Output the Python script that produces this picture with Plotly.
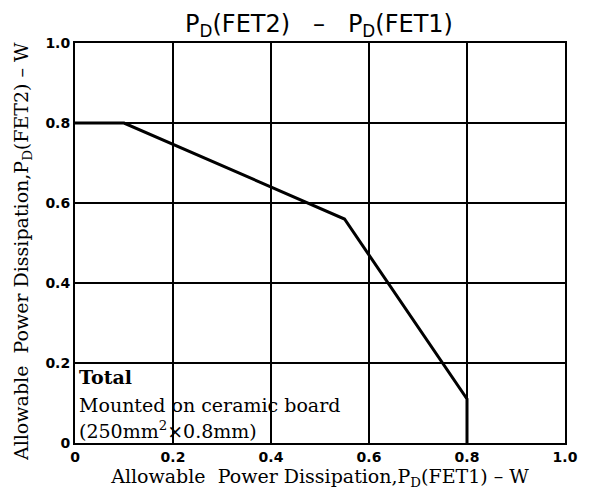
import plotly.graph_objects as go

# Curve data: PD(FET1) vs PD(FET2)
pd_fet1 = [0.0, 0.1, 0.55, 0.8, 0.8]
pd_fet2 = [0.8, 0.8, 0.56, 0.11, 0.0]

x_ticks = [0, 0.2, 0.4, 0.6, 0.8, 1.0]
x_tick_labels = ["0", "0.2", "0.4", "0.6", "0.8", "1.0"]
y_ticks = [0, 0.2, 0.4, 0.6, 0.8, 1.0]
y_tick_labels = ["0", "0.2", "0.4", "0.6", "0.8", "1.0"]

title_text = "P<sub>D</sub>(FET2)&nbsp;&nbsp;&nbsp;\u2013&nbsp;&nbsp;&nbsp;P<sub>D</sub>(FET1)"
x_title = "Allowable&nbsp; Power Dissipation,P<sub>D</sub>(FET1) \u2013 W"
y_title = "Allowable&nbsp; Power Dissipation,P<sub>D</sub>(FET2) \u2013 W"
note_lines = ["<b>Total</b>", "Mounted on ceramic board", "(250mm<sup>2</sup>\u00d70.8mm)"]
note_y = [0.165, 0.095, 0.033]

serif = "DejaVu Serif, Liberation Serif, serif"
sans = "DejaVu Sans, Arial, sans-serif"

W, H = 581, 489

fig = go.Figure()
fig.add_trace(go.Scatter(x=pd_fet1, y=pd_fet2, mode="lines",
                         line=dict(color="black", width=3), showlegend=False,
                         hoverinfo="skip"))

fig.update_layout(
    width=W, height=H,
    margin=dict(l=67, r=24, t=35, b=54),
    paper_bgcolor="white", plot_bgcolor="white",
    title=dict(text=title_text, x=311 / W, xanchor="center",
               y=1 - 16 / H, yanchor="middle", xref="container", yref="container",
               font=dict(family=sans, size=24, color="black")),
    xaxis=dict(range=[0, 1.0], tickvals=x_ticks, ticktext=x_tick_labels,
               showgrid=True, gridcolor="black", gridwidth=1.5,
               showline=True, linecolor="black", linewidth=2, mirror=True,
               ticks="", zeroline=False,
               tickfont=dict(family=sans, size=14, color="black", weight="bold"),
               title=dict(text=x_title, font=dict(family=serif, size=19, color="black"),
                          standoff=2)),
    yaxis=dict(range=[0, 1.0], tickvals=y_ticks, ticktext=y_tick_labels,
               showgrid=True, gridcolor="black", gridwidth=1.5,
               showline=True, linecolor="black", linewidth=2, mirror=True,
               ticks="", zeroline=False,
               tickfont=dict(family=sans, size=14, color="black", weight="bold")),
)

# Y-axis title placed as a rotated annotation for precise positioning
fig.add_annotation(x=-(67 - 14) / 490, y=(435 - 244) / 400, xref="paper", yref="paper",
                   text=y_title, textangle=-90, showarrow=False,
                   xanchor="center", yanchor="middle",
                   font=dict(family=serif, size=19, color="black"))

for txt, yy in zip(note_lines, note_y):
    fig.add_annotation(x=0.005, y=yy, xref="x", yref="y", text=txt, showarrow=False,
                       xanchor="left", yanchor="middle",
                       font=dict(family=serif, size=19, color="black"))

fig.write_html("out.html")
